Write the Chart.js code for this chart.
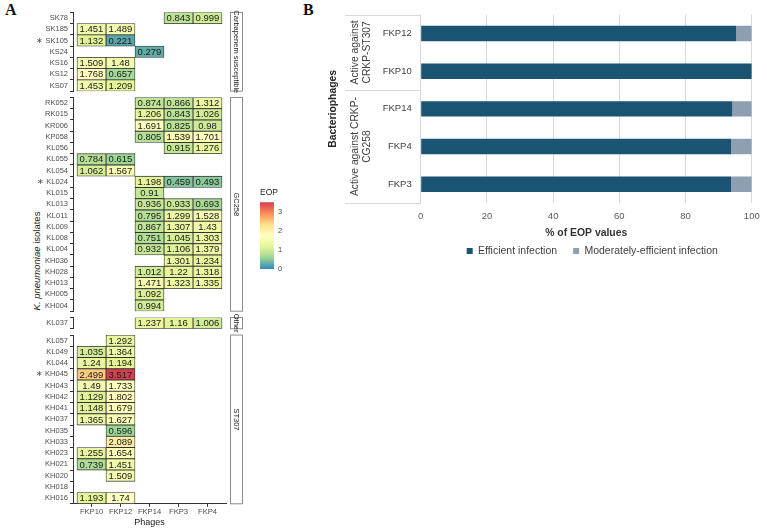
<!DOCTYPE html>
<html>
<head>
<meta charset="utf-8">
<script src="https://cdn.jsdelivr.net/npm/chart.js@4.4.1/dist/chart.umd.min.js"></script>
<style>
  body { margin:0; background:#fff; width:767px; height:530px; position:relative; overflow:hidden; font-family:"Liberation Sans", Arial, sans-serif; }
  canvas { position:absolute; }
  .tag { position:absolute; font:bold 16px/1 "Liberation Serif", "Times New Roman", serif; color:#111; }
  #ytitle { position:absolute; left:36px; top:261px; transform:translate(-50%,-50%) rotate(-90deg); white-space:nowrap; font-size:9.5px; color:#1a1a1a; }
</style>
</head>
<body>
<div class="tag" style="left:5px;top:2px">A</div>
<div class="tag" style="left:303px;top:2px">B</div>
<div id="ytitle"><i>K. pneumoniae</i> isolates</div>
<script>
  /* ── Datos panel A (heatmap EOP) ── */
  const _ = null;
  const phages = ['FKP10', 'FKP12', 'FKP14', 'FKP3', 'FKP4'];
  const facetNames = ['Carbapenem susceptible', 'GC258', 'Other', 'ST307'];
  const facetSizes = [7, 19, 1, 15];
  const isolates = [
    'SK78', 'SK185', 'SK105', 'KS24', 'KS16', 'KS12', 'KS07',
    'RK052', 'RK015', 'KR006', 'KP058', 'KL056', 'KL055', 'KL054', 'KL024', 'KL015', 'KL013', 'KL011', 'KL009', 'KL008', 'KL004', 'KH036', 'KH028', 'KH013', 'KH005', 'KH004',
    'KL037',
    'KL057', 'KL049', 'KL044', 'KH045', 'KH043', 'KH042', 'KH041', 'KH037', 'KH035', 'KH033', 'KH023', 'KH021', 'KH020', 'KH018', 'KH016'
  ];
  const starred = ['SK105', 'KL024', 'KH045'];

  const eopFKP10 = [
    _, 1.451, 1.132, _, 1.509, 1.768, 1.453,
    _, _, _, _, _, 0.784, 1.062, _, _, _, _, _, _, _, _, _, _, _, _,
    _,
    _, 1.035, 1.24, 2.499, 1.49, 1.129, 1.148, 1.365, _, _, 1.255, 0.739, _, _, 1.193
  ];
  const eopFKP12 = [
    _, 1.489, 0.221, _, 1.48, 0.657, 1.209,
    _, _, _, _, _, 0.615, 1.567, _, _, _, _, _, _, _, _, _, _, _, _,
    _,
    1.292, 1.364, 1.194, 3.517, 1.733, 1.802, 1.679, 1.627, 0.596, 2.089, 1.654, 1.451, 1.509, _, 1.74
  ];
  const eopFKP14 = [
    _, _, _, 0.279, _, _, _,
    0.874, 1.206, 1.691, 0.805, _, _, _, 1.198, 0.91, 0.936, 0.795, 0.867, 0.751, 0.932, _, 1.012, 1.471, 1.092, 0.994,
    1.237,
    _, _, _, _, _, _, _, _, _, _, _, _, _, _, _
  ];
  const eopFKP3 = [
    0.843, _, _, _, _, _, _,
    0.866, 0.843, 0.825, 1.539, 0.915, _, _, 0.459, _, 0.933, 1.299, 1.307, 1.045, 1.106, 1.301, 1.22, 1.323, _, _,
    1.16,
    _, _, _, _, _, _, _, _, _, _, _, _, _, _, _
  ];
  const eopFKP4 = [
    0.999, _, _, _, _, _, _,
    1.312, 1.026, 0.98, 1.701, 1.276, _, _, 0.493, _, 0.693, 1.528, 1.43, 1.303, 1.379, 1.234, 1.318, 1.335, _, _,
    1.006,
    _, _, _, _, _, _, _, _, _, _, _, _, _, _, _
  ];
  const eopTicks = [0, 1, 2, 3];

  /* ── Datos panel B (barras apiladas) ── */
  const phagesB = ['FKP12', 'FKP10', 'FKP14', 'FKP4', 'FKP3'];
  const groupLabelsB = [['Active against', 'CRKP-ST307'], ['Active against CRKP-', 'CG258']];
  const groupRowsB = [[0, 1], [2, 4]];
  const efficient = [95.24, 100, 94.12, 93.75, 93.75];
  const moderate = [4.76, 0, 5.88, 6.25, 6.25];
  const pctTicks = [0, 20, 40, 60, 80, 100];

  Chart.defaults.font.family = '"Liberation Sans", Arial, sans-serif';

  const eopCols = [eopFKP10, eopFKP12, eopFKP14, eopFKP3, eopFKP4];
  const eopMax = Math.max(...eopCols.flat().filter(v => v != null));

  /* ── Helpers ── */
  const spectral = ['#3288BD', '#99D594', '#E6F598', '#FFFFBF', '#FEE08B', '#FC8D59', '#D53E4F'];
  function hexRgb(h){ return [1, 3, 5].map(i => parseInt(h.slice(i, i + 2), 16)); }
  function eopColor(v){
    const t = Math.min(Math.max((v || 0) / eopMax, 0), 1) * (spectral.length - 1);
    const i = Math.min(Math.floor(t), spectral.length - 2);
    const f = t - i;
    const a = hexRgb(spectral[i]), b = hexRgb(spectral[i + 1]);
    return 'rgb(' + a.map((c, k) => Math.round(c + (b[k] - c) * f)).join(',') + ')';
  }
  function addCanvas(left, top, w, h){
    const c = document.createElement('canvas');
    c.width = w; c.height = h;
    c.style.left = left + 'px'; c.style.top = top + 'px';
    document.body.appendChild(c);
    return c;
  }

  // Texto dentro de cada celda
  const cellLabels = {
    id: 'cellLabels',
    afterDatasetsDraw(chart){
      const ctx = chart.ctx;
      ctx.save();
      ctx.font = '9.5px "Liberation Sans", Arial, sans-serif';
      ctx.fillStyle = '#1a1a1a';
      ctx.textAlign = 'center';
      ctx.textBaseline = 'middle';
      chart.data.datasets.forEach((ds, di) => {
        chart.getDatasetMeta(di).data.forEach((bar, i) => {
          const v = ds.eop[i];
          if (v == null) return;
          ctx.fillText(String(v), (bar.x + bar.base) / 2, bar.y + 0.5);
        });
      });
      ctx.restore();
    }
  };

  // Franja lateral de cada faceta
  function stripPlugin(text){
    return {
      id: 'strip',
      afterDraw(chart){
        const {ctx, chartArea: a} = chart;
        const x0 = a.right + 4.5, w = 12;
        ctx.save();
        ctx.fillStyle = '#fff';
        ctx.strokeStyle = '#8c8c8c';
        ctx.lineWidth = 1;
        ctx.fillRect(x0, a.top, w, a.bottom - a.top);
        ctx.strokeRect(x0, a.top, w, a.bottom - a.top);
        ctx.translate(x0 + w / 2, (a.top + a.bottom) / 2);
        ctx.rotate(Math.PI / 2);
        ctx.font = '7.5px "Liberation Sans", Arial, sans-serif';
        ctx.fillStyle = '#1a1a1a';
        ctx.textAlign = 'center';
        ctx.textBaseline = 'middle';
        ctx.fillText(text, 0, 0);
        ctx.restore();
      }
    };
  }

  /* ── Panel A: una gráfica por faceta ── */
  const rowH = 11.25;
  const facetTops = [12.4, 97.45, 317.5, 335.05];
  const padY = 8;
  let first = 0;
  facetNames.forEach((name, k) => {
    const rows = [];
    for (let j = 0; j < facetSizes[k]; j++) rows.push(first + j);
    first += facetSizes[k];
    const isLast = k === facetNames.length - 1;
    const plotH = rows.length * rowH;
    const top = Math.floor(facetTops[k] - padY);
    const padTop = facetTops[k] - top;
    const h = isLast ? 530 - top : Math.ceil(padTop + plotH + padY);
    const padBottom = isLast ? 0 : h - padTop - plotH;
    const xAxisH = 530 - (facetTops[k] + plotH);

    new Chart(addCanvas(0, top, 245, h), {
      type: 'bar',
      data: {
        labels: rows.map(i => (starred.includes(isolates[i]) ? '\u2217 ' : '') + isolates[i]),
        datasets: eopCols.map((col, c) => ({
          label: phages[c],
          data: rows.map(i => col[i] == null ? null : [c - 0.5, c + 0.5]),
          eop: rows.map(i => col[i]),
          backgroundColor: ctx => eopColor(ctx.dataset.eop[ctx.dataIndex]),
          borderColor: '#333',
          borderWidth: 0.8,
          borderSkipped: false,
          grouped: false,
          categoryPercentage: 1,
          barPercentage: 1
        }))
      },
      options: {
        indexAxis: 'y',
        responsive: false,
        animation: false,
        layout: { padding: { top: padTop, bottom: padBottom, left: 0, right: 19 } },
        plugins: { legend: { display: false }, tooltip: { enabled: false } },
        scales: {
          x: {
            type: 'linear', min: -0.638, max: 4.638, display: isLast,
            afterBuildTicks: s => { s.ticks = phages.map((p, i) => ({ value: i })); },
            afterFit: s => { if (isLast) s.height = xAxisH; },
            ticks: { callback: v => phages[v], font: { size: 7.6 }, color: '#4d4d4d', padding: 1, maxRotation: 0, autoSkip: false },
            grid: { display: true, drawOnChartArea: false, drawTicks: true, tickLength: 3, color: '#333' },
            border: { display: true, color: '#333' },
            title: { display: true, text: 'Phages', font: { size: 9 }, color: '#1a1a1a', padding: { top: 0, bottom: 2 } }
          },
          y: {
            type: 'category', offset: true,
            afterFit: s => { s.width = 73; },
            ticks: { autoSkip: false, font: { size: 7.5 }, color: '#4d4d4d', padding: 2 },
            grid: { display: true, drawOnChartArea: false, drawTicks: true, tickLength: 3, color: '#333' },
            border: { display: true, color: '#333' }
          }
        }
      },
      plugins: [cellLabels, stripPlugin(name)]
    });
  });

  /* ── Leyenda de color (EOP) ── */
  new Chart(addCanvas(250, 185, 40, 94), {
    type: 'bar',
    data: {
      labels: ['EOP'],
      datasets: [{
        data: [[0, eopMax]],
        borderWidth: 0,
        backgroundColor(ctx){
          const chart = ctx.chart;
          if (!chart.chartArea) return 'transparent';
          const y = chart.scales.y;
          const g = chart.ctx.createLinearGradient(0, y.getPixelForValue(0), 0, y.getPixelForValue(eopMax));
          spectral.forEach((c, i) => g.addColorStop(i / (spectral.length - 1), c));
          return g;
        }
      }]
    },
    options: {
      responsive: false,
      animation: false,
      layout: { padding: { left: 10, top: 0, right: 0, bottom: 10 } },
      datasets: { bar: { categoryPercentage: 1, barPercentage: 1 } },
      plugins: {
        legend: { display: false },
        tooltip: { enabled: false },
        title: { display: true, text: 'EOP', align: 'start', color: '#1a1a1a', font: { size: 8.5, weight: 'normal' }, padding: { top: 3, bottom: 4 } }
      },
      scales: {
        x: { display: false },
        y: {
          position: 'right', min: 0, max: eopMax,
          afterFit: s => { s.width = 16; },
          afterBuildTicks: s => { s.ticks = eopTicks.map(v => ({ value: v })); },
          grid: { display: false, drawTicks: false },
          border: { display: false },
          ticks: { font: { size: 7.5 }, color: '#4d4d4d', padding: 4 }
        }
      }
    }
  });

  /* ── Panel B ── */
  const groupBrackets = {
    id: 'groupBrackets',
    afterDraw(chart){
      const {ctx, chartArea: a, scales: {y}} = chart;
      const half = (y.getPixelForValue(1) - y.getPixelForValue(0)) / 2;
      ctx.save();
      ctx.strokeStyle = '#d9d9d9';
      ctx.lineWidth = 1;
      groupRowsB.forEach((span, g) => {
        const t = y.getPixelForValue(span[0]) - half;
        const b = y.getPixelForValue(span[1]) + half;
        [t, b].forEach(py => {
          ctx.beginPath();
          ctx.moveTo(45, Math.round(py) + 0.5);
          ctx.lineTo(a.left, Math.round(py) + 0.5);
          ctx.stroke();
        });
        ctx.save();
        ctx.translate(61.3, (t + b) / 2);
        ctx.rotate(-Math.PI / 2);
        ctx.font = '10.3px "Liberation Sans", Arial, sans-serif';
        ctx.fillStyle = '#404040';
        ctx.textAlign = 'center';
        ctx.textBaseline = 'middle';
        ctx.fillText(groupLabelsB[g][0], 0, -6.2);
        ctx.fillText(groupLabelsB[g][1], 0, 6.2);
        ctx.restore();
      });
      ctx.restore();
    }
  };
  // La leyenda va centrada bajo el área de barras, no bajo todo el lienzo
  const placeLegend = {
    id: 'placeLegend',
    afterLayout(chart){
      chart.legend.left = 150.7;
      chart.legend.top = 229.75;
    }
  };

  const hB = 280, xAxisB = 38, legendPad = 16, legendFont = 10.5;
  const legendH = legendFont + legendPad + 10;
  new Chart(addCanvas(300, 0, 467, hB), {
    type: 'bar',
    data: {
      labels: phagesB,
      datasets: [
        { label: 'Efficient infection', data: efficient, backgroundColor: '#1b5473' },
        { label: 'Moderately-efficient infection', data: moderate, backgroundColor: '#8d9fb0' }
      ]
    },
    options: {
      indexAxis: 'y',
      responsive: false,
      animation: false,
      layout: { padding: { left: 0, top: 7, right: 9.3, bottom: hB - 203 - xAxisB - legendH } },
      datasets: { bar: { categoryPercentage: 1, barPercentage: 0.41, borderWidth: 0 } },
      plugins: {
        tooltip: { enabled: false },
        legend: {
          position: 'bottom', align: 'start',
          labels: { boxWidth: 6, boxHeight: 6, padding: legendPad, color: '#404040', font: { size: legendFont } }
        }
      },
      scales: {
        x: {
          stacked: true, min: 0, max: 100,
          afterBuildTicks: s => { s.ticks = pctTicks.map(v => ({ value: v })); },
          afterFit: s => { s.height = xAxisB; },
          grid: { color: '#d9d9d9', drawTicks: false },
          border: { display: false },
          ticks: { font: { size: 9.5 }, color: '#595959', padding: 7.3 },
          title: { display: true, text: '% of EOP values', font: { size: 10.4, weight: 'bold' }, color: '#333', padding: { top: 0, bottom: 2 } }
        },
        y: {
          stacked: true,
          afterFit: s => { s.width = 120.7; },
          grid: { display: false, drawTicks: false },
          border: { display: false },
          ticks: { font: { size: 9.5 }, color: '#404040', padding: 9 },
          title: { display: true, text: 'Bacteriophages', font: { size: 10.4, weight: 'bold' }, color: '#262626', padding: { top: 26.8 } }
        }
      }
    },
    plugins: [groupBrackets, placeLegend]
  });
</script>
</body>
</html>
